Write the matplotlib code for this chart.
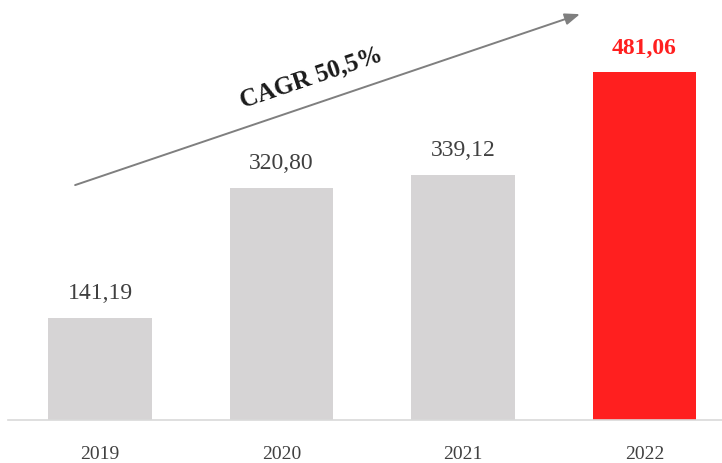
import matplotlib.pyplot as plt

# revenue by year
years = ['2019', '2020', '2021', '2022']
values = [141.19, 320.80, 339.12, 481.06]
value_labels = ['141,19', '320,80', '339,12', '481,06']
cagr_text = 'CAGR 50,5%'

bar_colors = ['#d6d4d5', '#d6d4d5', '#d6d4d5', '#ff1f1f']

plt.rcParams['font.family'] = ['Liberation Serif', 'DejaVu Serif']

fig = plt.figure(figsize=(7.22, 4.64), dpi=100)
ax = fig.add_axes([8 / 722, 43 / 464, 714 / 722, 421 / 464])

x = range(len(years))
bars = ax.bar(x, values, width=0.57, color=bar_colors)

ax.set_xlim(-0.507, 3.427)
ax.set_ylim(0, 582)

# value labels above the bars
for i, (v, lab) in enumerate(zip(values, value_labels)):
    last = i == len(values) - 1
    ax.annotate(lab, (i, v), xytext=(0, 18), textcoords='offset points',
                ha='center', va='center', fontsize=17,
                color='#ff1f1f' if last else '#404040',
                fontweight='bold' if last else 'normal')

# year labels under the baseline
for i, yr in enumerate(years):
    ax.annotate(yr, (i, 0), xytext=(0, -24), textcoords='offset points',
                ha='center', va='center', fontsize=14, color='#404040')

for s in ['top', 'right', 'left']:
    ax.spines[s].set_visible(False)
ax.spines['bottom'].set_color('#d9d9d9')
ax.spines['bottom'].set_linewidth(1.2)
ax.set_xticks([])
ax.set_yticks([])

# growth arrow
ax.annotate('', xy=(0.801, 0.964), xytext=(0.094, 0.558),
            xycoords='axes fraction', textcoords='axes fraction',
            arrowprops=dict(arrowstyle='-|>,head_length=0.9,head_width=0.35',
                            color='#7f7f7f', lw=1.4, shrinkA=0, shrinkB=0))
ax.text(0.425, 0.815, cagr_text, transform=ax.transAxes, rotation=18.7,
        rotation_mode='anchor', ha='center', va='center',
        fontsize=18, fontweight='bold', color='#1a1a1a')

fig.savefig('out.png', dpi=100)
